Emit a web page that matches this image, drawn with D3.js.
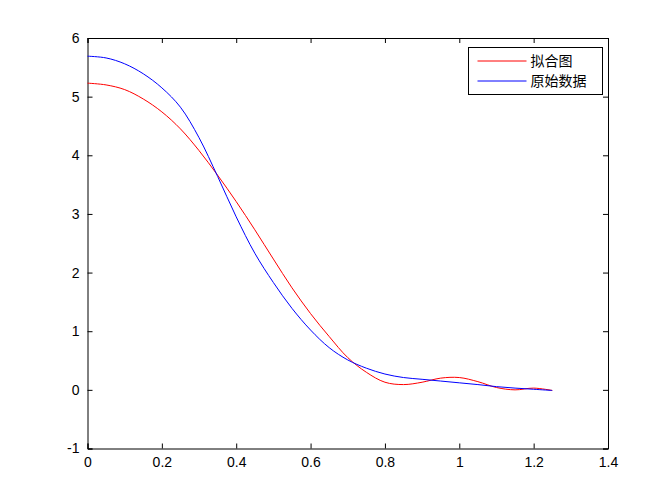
<!DOCTYPE html>
<html>
<head>
<meta charset="utf-8">
<script src="https://cdn.jsdelivr.net/npm/d3@7"></script>
<style>
  body { margin: 0; background: #fff; }
  svg { display: block; }
  text { font-family: "Liberation Sans", Arial, sans-serif; font-size: 14px; fill: #000; }
</style>
</head>
<body>
<div id="chart"></div>
<script>
// x positions of the samples
var xs = [0, 0.05, 0.10, 0.15, 0.20, 0.25, 0.30, 0.35, 0.40, 0.45, 0.50, 0.55, 0.60,
          0.65, 0.70, 0.75, 0.80, 0.85, 0.90, 0.95, 1.00, 1.05, 1.10, 1.15, 1.20, 1.25];
// 拟合图 (red)
var fitY = [5.23, 5.20, 5.12, 4.96, 4.74, 4.45, 4.08, 3.66, 3.21, 2.73, 2.23, 1.74, 1.30,
            0.91, 0.55, 0.30, 0.13, 0.09, 0.13, 0.20, 0.21, 0.14, 0.04, 0.00, 0.03, -0.01];
// 原始数据 (blue)
var rawY = [5.69, 5.66, 5.56, 5.39, 5.15, 4.82, 4.30, 3.64, 2.95, 2.33, 1.83, 1.39, 1.02,
            0.72, 0.51, 0.37, 0.27, 0.21, 0.18, 0.15, 0.12, 0.09, 0.055, 0.03, 0.01, -0.01];
var xTicks = [0, 0.2, 0.4, 0.6, 0.8, 1, 1.2, 1.4];
var yTicks = [-1, 0, 1, 2, 3, 4, 5, 6];
var seriesNames = ["拟合图", "原始数据"];
var seriesColors = ["#ff0000", "#0000ff"];

var W = 672, H = 504;
var margin = {left: 87.5, right: 64, top: 38, bottom: 55.5};
var w = W - margin.left - margin.right,
    h = H - margin.top - margin.bottom;

var svg = d3.select("#chart").append("svg")
  .attr("width", W).attr("height", H);

var g = svg.append("g").attr("transform", "translate(" + margin.left + "," + margin.top + ")");

var x = d3.scaleLinear().domain([0, 1.4]).range([0, w]);
var y = d3.scaleLinear().domain([-1, 6]).range([h, 0]);

// plain hyphen for negatives, like the original
var fmt = function(d) { return String(d); };

var tick = 5;
g.append("g").attr("transform", "translate(0," + h + ")")
  .call(d3.axisBottom(x).tickValues(xTicks).tickSize(-tick).tickPadding(tick + 4).tickFormat(fmt));
g.append("g")
  .call(d3.axisTop(x).tickValues(xTicks).tickSize(-tick).tickFormat(""));
g.append("g")
  .call(d3.axisLeft(y).tickValues(yTicks).tickSize(-tick).tickPadding(tick + 3).tickFormat(fmt));
g.append("g").attr("transform", "translate(" + w + ",0)")
  .call(d3.axisRight(y).tickValues(yTicks).tickSize(-tick).tickFormat(""));

g.selectAll(".domain").attr("stroke", "#000").attr("stroke-width", 1);
g.selectAll(".tick line").attr("stroke", "#000");
g.selectAll(".tick text").style("font-size", "14px").style("font-family", "'Liberation Sans', Arial, sans-serif").attr("fill", "#000");

var line = d3.line()
  .x(function(d) { return x(d[0]); })
  .y(function(d) { return y(d[1]); })
  .curve(d3.curveCatmullRom);

var data = [fitY, rawY].map(function(ys) {
  return ys.map(function(v, i) { return [xs[i], v]; });
});

g.selectAll(".series").data(data).enter().append("path")
  .attr("class", "series")
  .attr("fill", "none")
  .attr("stroke", function(d, i) { return seriesColors[i]; })
  .attr("stroke-width", 1)
  .attr("d", line);

// legend
var lg = svg.append("g").attr("transform", "translate(468.5,47.5)");
lg.append("rect").attr("width", 134).attr("height", 47)
  .attr("fill", "#fff").attr("stroke", "#000");
var item = lg.selectAll(".item").data(seriesNames).enter().append("g")
  .attr("transform", function(d, i) { return "translate(0," + (13.5 + i * 20) + ")"; });
item.append("line").attr("x1", 9).attr("x2", 58)
  .attr("stroke", function(d, i) { return seriesColors[i]; });
item.append("text").attr("x", 62).attr("dy", "0.36em")
  .style("font-family", "'Noto Sans CJK SC', sans-serif").style("font-size", "14px")
  .text(function(d) { return d; });
</script>
</body>
</html>
